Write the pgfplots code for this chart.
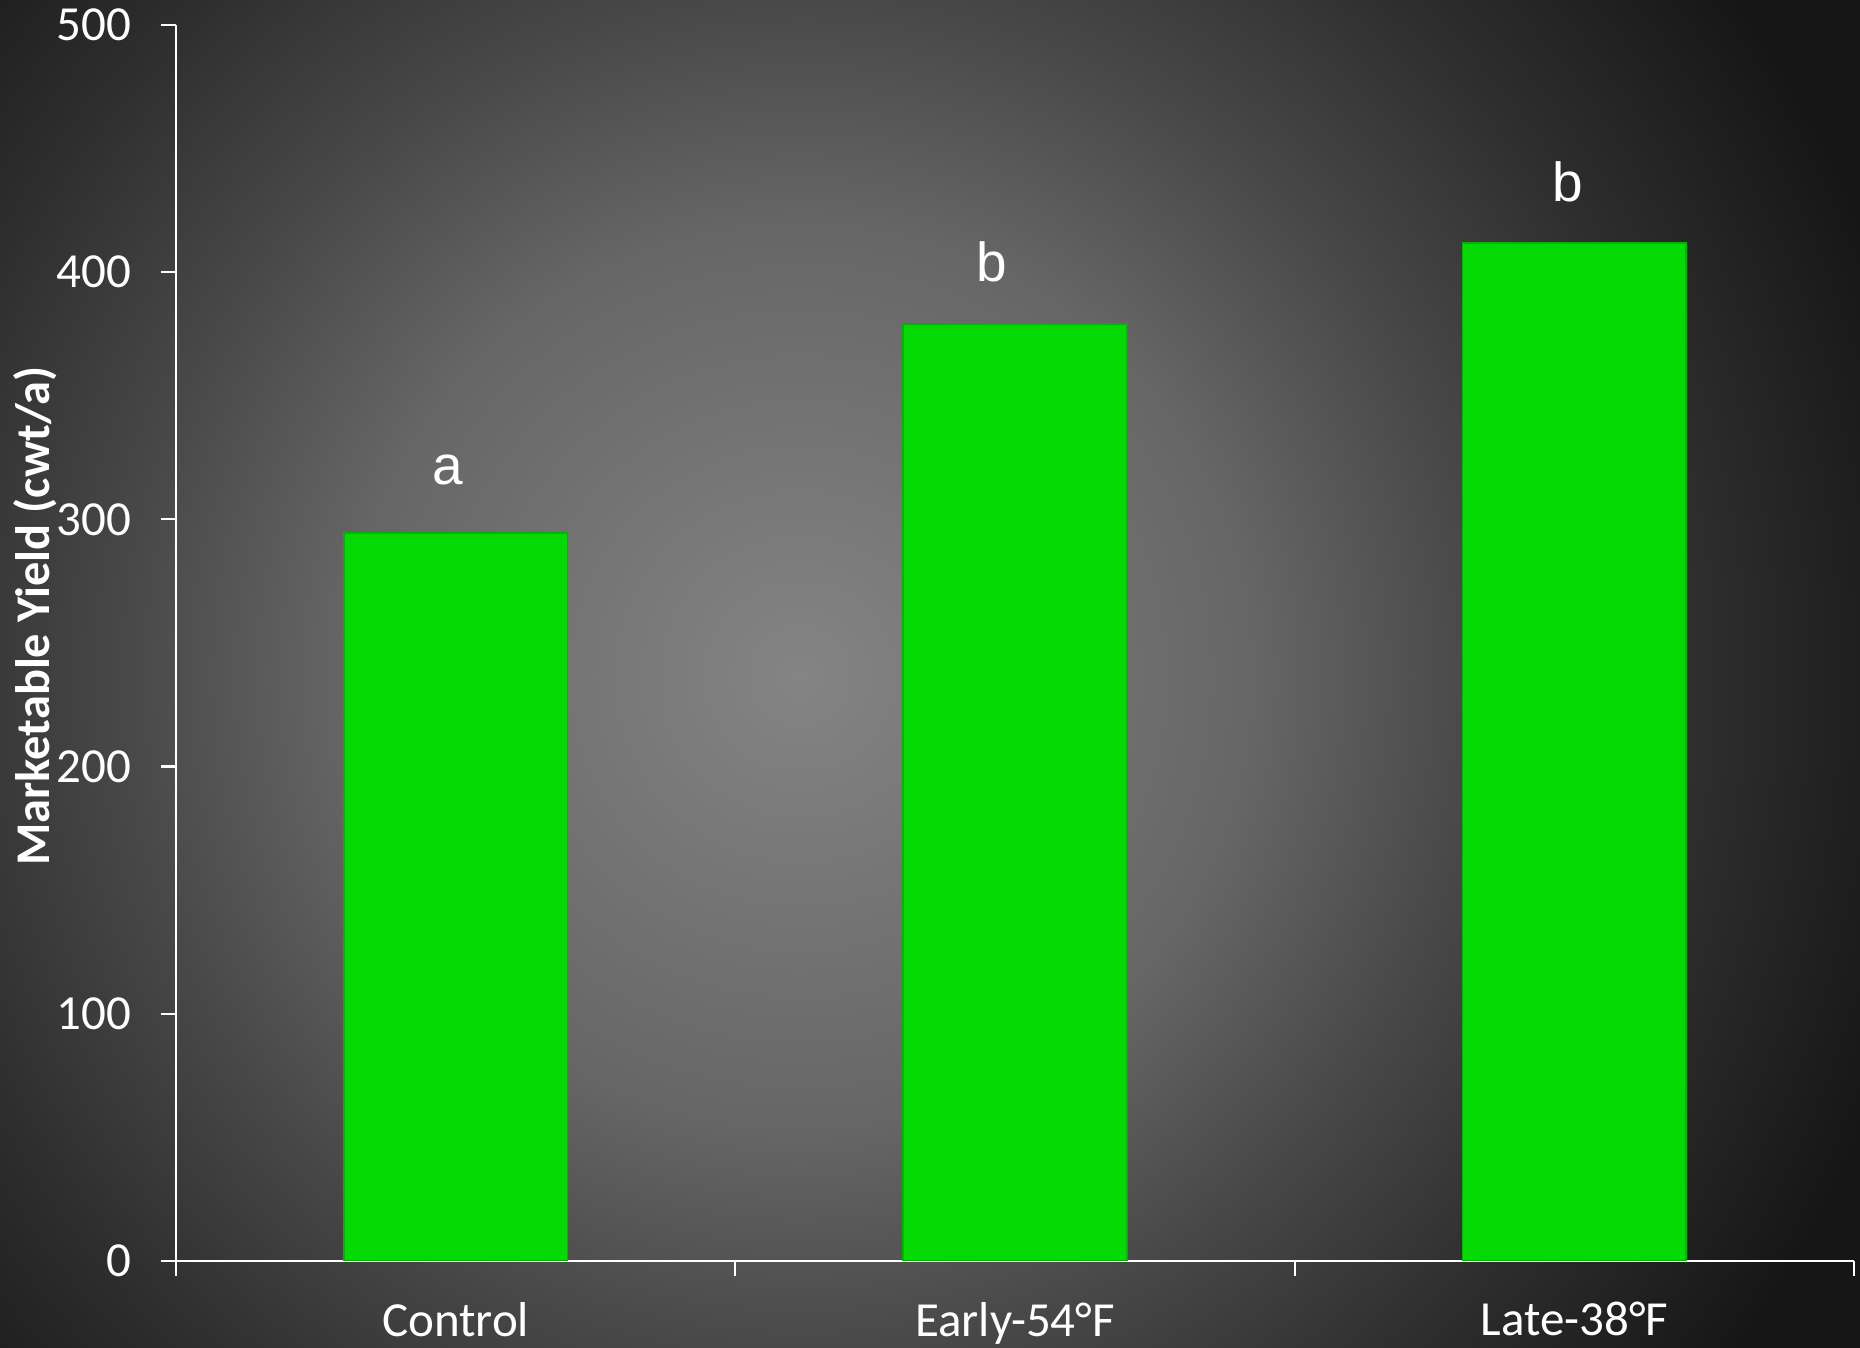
\documentclass[border=0pt]{standalone}
\usepackage{pgfplots}
\pgfplotsset{compat=1.18}
\usepackage{fontspec}
\setmainfont{Carlito}
\newfontfamily\arialf{Liberation Sans}
\definecolor{barg}{HTML}{04D904}
\definecolor{baredge}{HTML}{03B503}
\definecolor{bgc0}{HTML}{848484}
\definecolor{bgc1}{HTML}{666666}
\definecolor{bgc2}{HTML}{484848}
\definecolor{bgc3}{HTML}{2E2E2E}
\definecolor{bgc4}{HTML}{161616}
\pgfdeclareradialshading{bgshade}{\pgfpoint{0bp}{0bp}}{color(0bp)=(bgc0); color(9.4bp)=(bgc1); color(14.1bp)=(bgc2); color(18.75bp)=(bgc3); color(24bp)=(bgc4); color(50bp)=(bgc4)}
\begin{document}
\begin{tikzpicture}
\path[use as bounding box] (0pt,0pt) rectangle (465pt,336.75pt);
\begin{scope}
\clip (0pt,0pt) rectangle (465pt,336.75pt);
\shade[shading=bgshade] (-100pt,-132.25pt) rectangle (500pt,467.75pt);
\end{scope}
\begin{axis}[
  at={(44pt,21.5pt)}, anchor=south west,
  width=419.5pt, height=309pt, scale only axis,
  xmin=-0.5, xmax=2.5, ymin=0, ymax=500,
  axis x line*=bottom, axis y line*=left,
  axis line style={white, line width=0.55pt},
  xtick={0,1,2}, xticklabels={Control, Early-54°F, Late-38°F},
  minor xtick={-0.5,0.5,1.5,2.5},
  ytick={0,100,200,300,400,500},
  tick align=outside,
  major tick length=3.75pt, minor tick length=3.75pt,
  major x tick style={draw=none},
  every tick/.style={white, line width=0.55pt},
  tick label style={text=white, font=\fontsize{12.25}{14}\selectfont},
  /pgf/number format/assume math mode=true,
  yticklabel style={xshift=-4pt},
  xticklabel style={yshift=-3pt},
]
\addplot[ybar, bar width=0.4, fill=barg, draw=baredge, line width=0.4pt] coordinates {(0,294.5) (1,379) (2,411.8)};
\node[text=white, font=\arialf\fontsize{13.75}{16}\selectfont] at (axis cs:-0.014,320) {a};
\node[text=white, font=\arialf\fontsize{13.75}{16}\selectfont] at (axis cs:0.959,404) {b};
\node[text=white, font=\arialf\fontsize{13.75}{16}\selectfont] at (axis cs:1.988,436.7) {b};
\end{axis}
\node[rotate=90, text=white, font=\bfseries\fontsize{12.1}{14}\selectfont] at (8.75pt,182.75pt) {Marketable Yield (cwt/a)};
\end{tikzpicture}
\end{document}
